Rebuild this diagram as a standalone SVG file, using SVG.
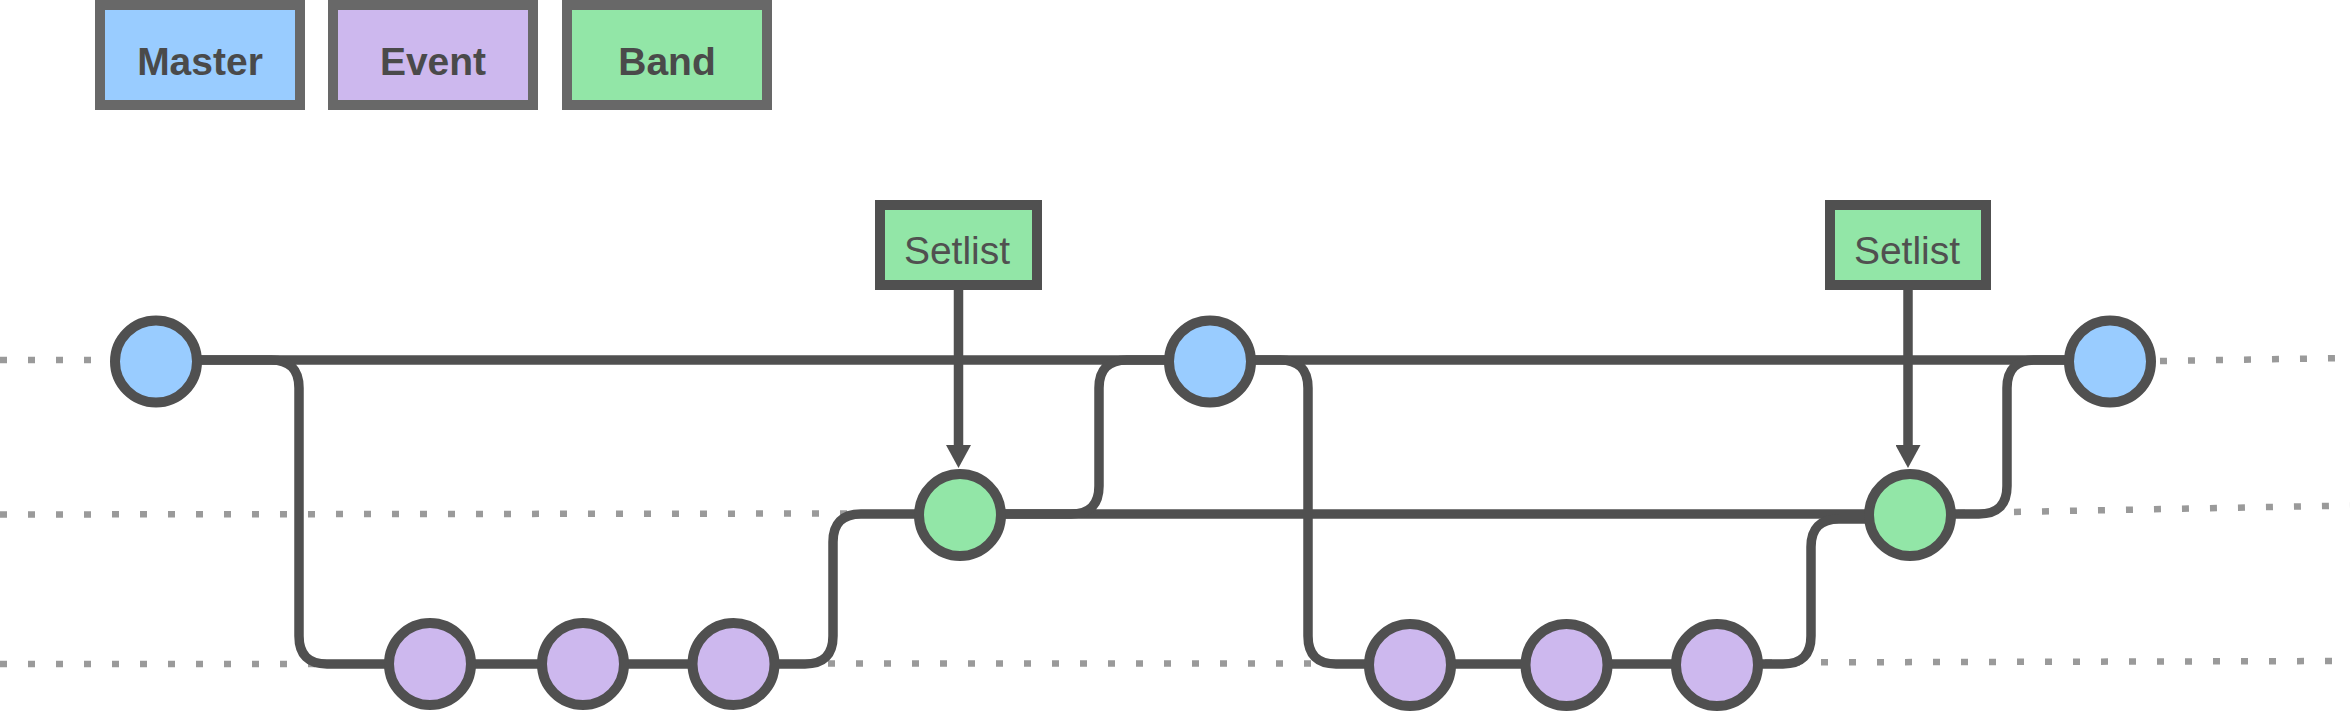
<svg xmlns="http://www.w3.org/2000/svg" width="2350" height="712" viewBox="0 0 2350 712">
<style>
.legend rect{stroke:#686868;stroke-width:10}
.ltxt{font-family:"Liberation Sans",Arial,sans-serif;font-size:39px;font-weight:bold;fill:#4a4a4a;text-anchor:middle}
.tag rect{fill:#92e6a7;stroke:#505050;stroke-width:10}
.ttxt{font-family:"Liberation Sans",Arial,sans-serif;font-size:39px;fill:#505050;text-anchor:middle}
.dot{fill:none;stroke:#9a9a9a;stroke-width:6.5;stroke-dasharray:7 21}
.wire{fill:none;stroke:#505050;stroke-width:9.5;stroke-linejoin:round}
.node{stroke:#505050;stroke-width:10}
.master{fill:#99ccff}
.event{fill:#cdb8ee}
.band{fill:#92e6a7}
</style>
<defs>
<marker id="arr" markerWidth="25" markerHeight="25" refX="7" refY="12.5" orient="auto" markerUnits="userSpaceOnUse">
<path d="M0,0 L23,12.5 L0,25 Z" fill="#505050"/>
</marker>
</defs>
<rect width="2350" height="712" fill="#ffffff"/>
<g id="lanes">
<path class="dot" d="M0,360 L112,360"/>
<path class="dot" d="M2160,361 L2350,358"/>
<path class="dot" d="M0,514.5 L862,513.5"/>
<path class="dot" d="M1958,513 L2350,505.5"/>
<path class="dot" d="M0,664 L332,664"/>
<path class="dot" d="M800,663.5 L1340,663.5"/>
<path class="dot" d="M1765,662.5 L2350,661"/>
</g>
<g id="connectors">
<path class="wire" d="M156,360 H2110"/>
<path class="wire" d="M200,360 H271 Q299,360 299,388 V636 Q299,664 327,664 H430"/>
<path class="wire" d="M430,664 H733"/>
<path class="wire" d="M733,664 H805 Q833,664 833,636 V542 Q833,514 861,514 H960"/>
<path class="wire" d="M960,514 H1910"/>
<path class="wire" d="M960,514 H1071 Q1099,514 1099,486 V388 Q1099,360 1127,360 H1210"/>
<path class="wire" d="M1210,360 H1280 Q1308,360 1308,388 V636 Q1308,664 1336,664 H1410"/>
<path class="wire" d="M1410,664 H1717"/>
<path class="wire" d="M1717,664 H1783 Q1811,664 1811,636 V547 Q1811,519 1839,519 H1910"/>
<path class="wire" d="M1910,514 H1979 Q2007,514 2007,486 V388 Q2007,360 2035,360 H2110"/>
<path class="wire" d="M958.5,290 V452" marker-end="url(#arr)"/>
<path class="wire" d="M1908,290 V452" marker-end="url(#arr)"/>
</g>
<g id="legend-master" class="legend"><rect x="100" y="5" width="200" height="100" fill="#99ccff"/><text class="ltxt" x="200" y="75">Master</text></g>
<g id="legend-event" class="legend"><rect x="333" y="5" width="200" height="100" fill="#cdb8ee"/><text class="ltxt" x="433" y="75">Event</text></g>
<g id="legend-band" class="legend"><rect x="567" y="5" width="200" height="100" fill="#92e6a7"/><text class="ltxt" x="667" y="75">Band</text></g>
<g id="setlist-1" class="tag"><rect x="880" y="205" width="157" height="80"/><text class="ttxt" x="957" y="264">Setlist</text></g>
<g id="setlist-2" class="tag"><rect x="1830" y="205" width="156" height="80"/><text class="ttxt" x="1907" y="264">Setlist</text></g>
<g id="m1"><circle class="node master" cx="156" cy="361.5" r="41"/></g>
<g id="m2"><circle class="node master" cx="1210" cy="361.5" r="41"/></g>
<g id="m3"><circle class="node master" cx="2110" cy="361.5" r="41"/></g>
<g id="b1"><circle class="node band" cx="960" cy="515" r="41"/></g>
<g id="b2"><circle class="node band" cx="1910" cy="515" r="41"/></g>
<g id="e1"><circle class="node event" cx="430" cy="664" r="41"/></g>
<g id="e2"><circle class="node event" cx="583" cy="664" r="41"/></g>
<g id="e3"><circle class="node event" cx="733.5" cy="664" r="41"/></g>
<g id="e4"><circle class="node event" cx="1410" cy="665" r="41"/></g>
<g id="e5"><circle class="node event" cx="1566.5" cy="665" r="41"/></g>
<g id="e6"><circle class="node event" cx="1717" cy="665" r="41"/></g>
</svg>
